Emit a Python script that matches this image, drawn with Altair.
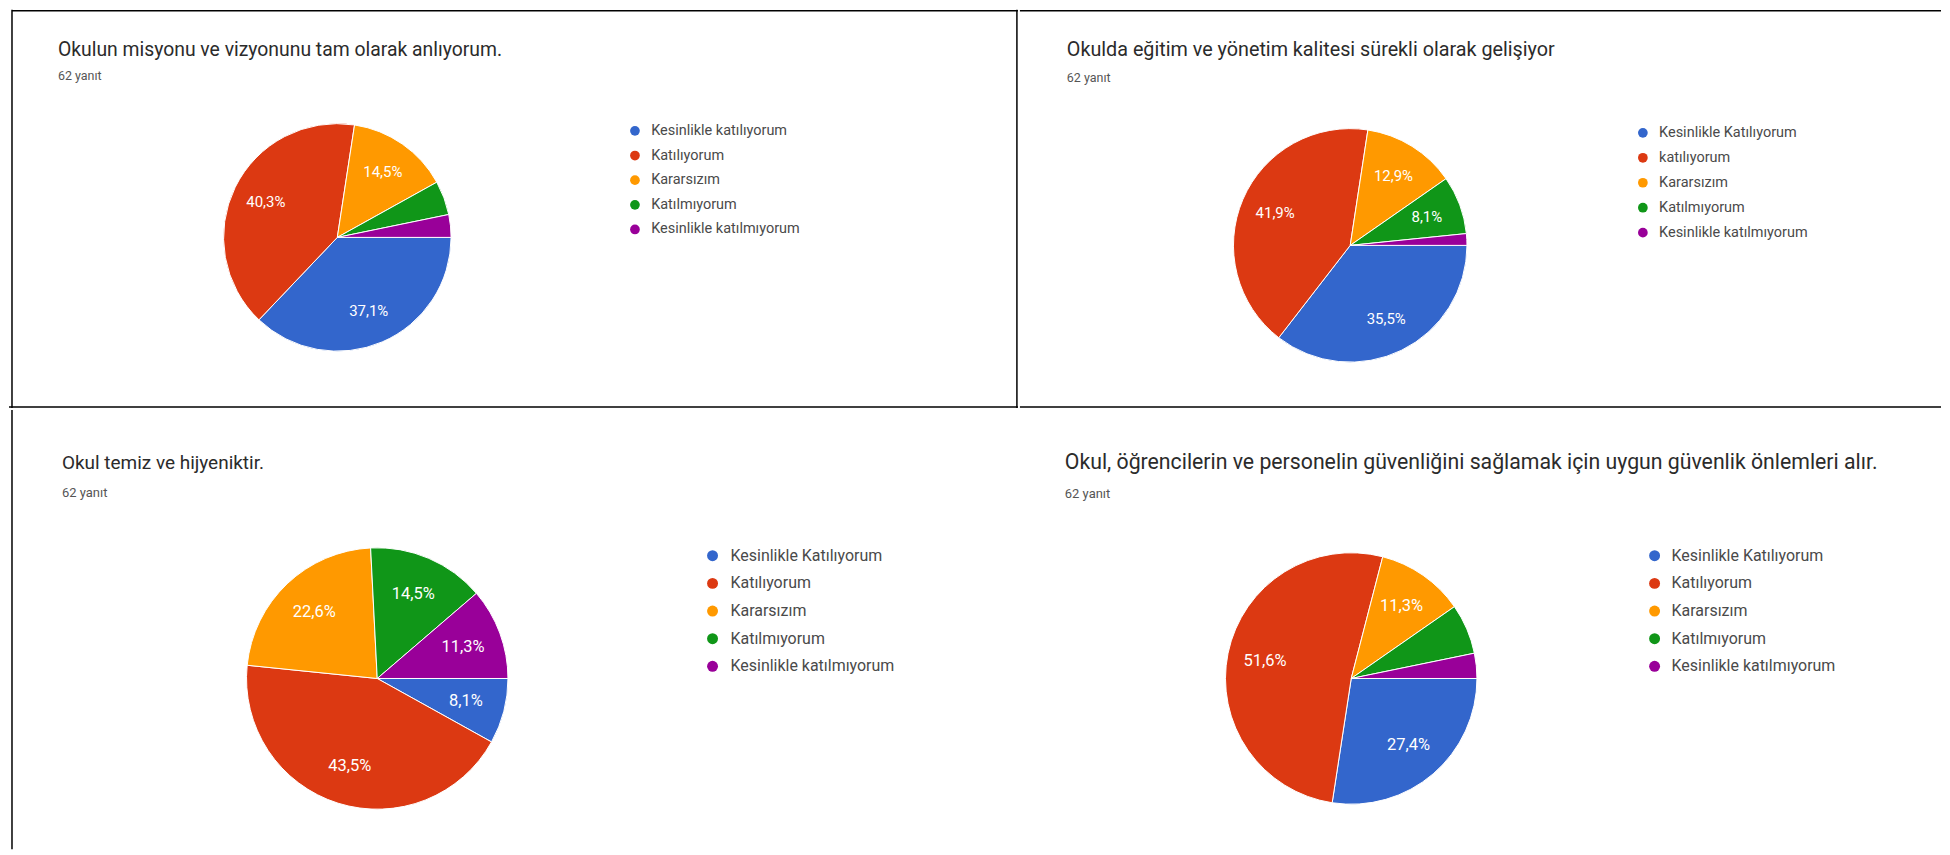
import math
import altair as alt
import pandas as pd

TOTAL = 62
SUBTITLE = "62 yanıt"
TITLES = [
    "Okulun misyonu ve vizyonunu tam olarak anlıyorum.",
    "Okulda eğitim ve yönetim kalitesi sürekli olarak gelişiyor",
    "Okul temiz ve hijyeniktir.",
    "Okul, öğrencilerin ve personelin güvenliğini sağlamak için uygun güvenlik  önlemleri alır.",
]
CATS = [
    ["Kesinlikle katılıyorum", "Katılıyorum", "Kararsızım", "Katılmıyorum", "Kesinlikle katılmıyorum"],
    ["Kesinlikle Katılıyorum", "katılıyorum", "Kararsızım", "Katılmıyorum", "Kesinlikle katılmıyorum"],
    ["Kesinlikle Katılıyorum", "Katılıyorum", "Kararsızım", "Katılmıyorum", "Kesinlikle katılmıyorum"],
    ["Kesinlikle Katılıyorum", "Katılıyorum", "Kararsızım", "Katılmıyorum", "Kesinlikle katılmıyorum"],
]
COUNTS = [
    [23, 25, 9, 3, 2],
    [22, 26, 8, 5, 1],
    [5, 27, 14, 9, 7],
    [17, 32, 7, 4, 2],
]
COLORS = ["#3366cc", "#dc3912", "#ff9900", "#109618", "#990099"]

# layout (panel-relative pixels)
LAYOUT = [
    dict(w=1011, h=399, cx=329, cy=228, r=114, tx=49, ty=40, sy=66, tfs=19.4, sfs=12.5,
         lx=620, ly=114, lfs=14.5, sym=95, rp=9.7, loff=9, pfs=15),
    dict(w=923, h=399, cx=331, cy=236, r=117, tx=47, ty=40, sy=68, tfs=19.8, sfs=12.5,
         lx=617, ly=116, lfs=14.5, sym=95, rp=10, loff=9, pfs=15),
    dict(w=1011, h=440, cx=369, cy=269, r=131, tx=53, ty=53, sy=83, tfs=19, sfs=13,
         lx=697, ly=138, lfs=16, sym=120, rp=11.7, loff=10, pfs=16.5),
    dict(w=923, h=440, cx=334, cy=269, r=126, tx=47, ty=53, sy=84, tfs=21.3, sfs=13,
         lx=630, ly=138, lfs=16, sym=120, rp=11.7, loff=9, pfs=16.5),
]
# border rules per panel: (x, x2, y, y2)
RULES = [
    [(3, 1011, 1, 1), (3, 3, 0, 399), (1010, 1010, 0, 399), (0, 1011, 398, 398)],
    [(0, 923, 1, 1), (0, 923, 398, 398)],
    [(3, 3, 0, 440)],
    [],
]


def pct_label(n):
    p = n / TOTAL * 100
    if p < 7:
        return ""
    return f"{p:.1f}".replace(".", ",") + "%"


def panel(i):
    L = LAYOUT[i]
    df = pd.DataFrame({
        "cat": CATS[i],
        "n": COUNTS[i],
        "idx": list(range(len(CATS[i]))),
        "label": [pct_label(n) for n in COUNTS[i]],
    })
    base = alt.Chart(df)
    theta = alt.Theta("n:Q", stack=True,
                      scale=alt.Scale(range=[math.pi / 2, math.pi / 2 + 2 * math.pi]))
    arc = base.mark_arc(outerRadius=L["r"], stroke="white", strokeWidth=1).encode(
        theta=theta,
        color=alt.Color(
            "cat:N",
            scale=alt.Scale(domain=CATS[i], range=COLORS),
            legend=alt.Legend(
                title=None, orient="none", legendX=L["lx"], legendY=L["ly"],
                symbolType="circle", symbolSize=L["sym"], symbolStrokeWidth=0,
                labelFont="Roboto", labelFontSize=L["lfs"], labelColor="#4a4a4a",
                rowPadding=L["rp"], labelOffset=L["loff"], padding=0, labelLimit=400,
            ),
        ),
        order=alt.Order("idx:Q"),
        x=alt.value(L["cx"]),
        y=alt.value(L["cy"]),
    )
    text = base.mark_text(radius=0.7 * L["r"], font="Roboto", fontSize=L["pfs"],
                          color="white", align="center", baseline="middle").encode(
        theta=theta,
        text="label:N",
        detail="cat:N",
        order=alt.Order("idx:Q"),
        x=alt.value(L["cx"]),
        y=alt.value(L["cy"]),
    )
    title = alt.Chart(pd.DataFrame({"t": [TITLES[i]]})).mark_text(
        align="left", baseline="middle", font="Roboto", fontSize=L["tfs"], color="#2b2b2b"
    ).encode(x=alt.value(L["tx"]), y=alt.value(L["ty"]), text="t:N")
    sub = alt.Chart(pd.DataFrame({"t": [SUBTITLE]})).mark_text(
        align="left", baseline="middle", font="Roboto", fontSize=L["sfs"], color="#555555"
    ).encode(x=alt.value(L["tx"]), y=alt.value(L["sy"]), text="t:N")
    layers = [arc, text, title, sub]
    for (x1, x2, y1, y2) in RULES[i]:
        rdf = pd.DataFrame({"k": [0]})
        if y1 == y2:
            rule = alt.Chart(rdf).mark_rule(color="black", strokeWidth=1.5).encode(
                x=alt.value(x1), x2=alt.value(x2), y=alt.value(y1))
        else:
            rule = alt.Chart(rdf).mark_rule(color="black", strokeWidth=1.5).encode(
                x=alt.value(x1), y=alt.value(y1), y2=alt.value(y2))
        layers.append(rule)
    return alt.layer(*layers).properties(width=L["w"], height=L["h"])


row1 = alt.hconcat(panel(0), panel(1), spacing=0).resolve_scale(color="independent", theta="independent")
row2 = alt.hconcat(panel(2), panel(3), spacing=0).resolve_scale(color="independent", theta="independent")
chart = (
    alt.vconcat(row1, row2, spacing=0)
    .resolve_scale(color="independent", theta="independent")
    .properties(padding=0, background="white")
    .configure_view(stroke=None)
)

chart.save("out.html", embed_options={"renderer": "svg", "actions": False})
